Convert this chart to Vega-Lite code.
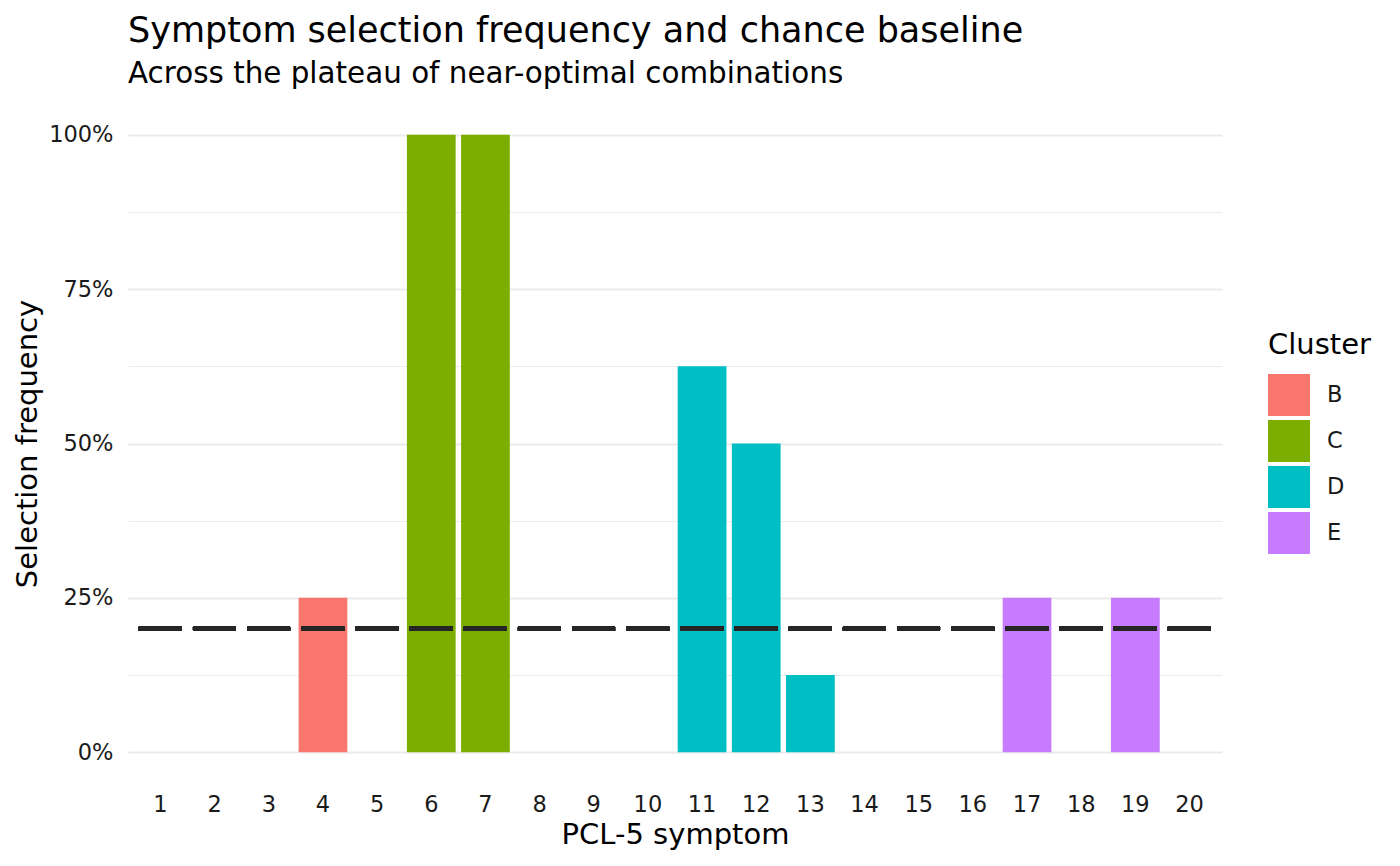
{
  "$schema": "https://vega.github.io/schema/vega-lite/v6.json",
  "autosize": {"type": "none"},
  "padding": {"left": 128, "top": 104, "right": 178, "bottom": 83},
  "width": 1094,
  "height": 679,
  "background": "white",
  "title": {
    "text": "Symptom selection frequency and chance baseline",
    "subtitle": "Across the plateau of near-optimal combinations",
    "anchor": "start",
    "frame": "group",
    "fontSize": 35,
    "subtitleFontSize": 29.4,
    "fontWeight": "normal",
    "color": "black",
    "subtitleColor": "black",
    "subtitlePadding": 11,
    "offset": 16
  },
  "data": {
    "values": [
      {"symptom": 1, "cluster": "B", "freq": 0},
      {"symptom": 2, "cluster": "B", "freq": 0},
      {"symptom": 3, "cluster": "B", "freq": 0},
      {"symptom": 4, "cluster": "B", "freq": 0.25},
      {"symptom": 5, "cluster": "B", "freq": 0},
      {"symptom": 6, "cluster": "C", "freq": 1},
      {"symptom": 7, "cluster": "C", "freq": 1},
      {"symptom": 8, "cluster": "D", "freq": 0},
      {"symptom": 9, "cluster": "D", "freq": 0},
      {"symptom": 10, "cluster": "D", "freq": 0},
      {"symptom": 11, "cluster": "D", "freq": 0.625},
      {"symptom": 12, "cluster": "D", "freq": 0.5},
      {"symptom": 13, "cluster": "D", "freq": 0.125},
      {"symptom": 14, "cluster": "D", "freq": 0},
      {"symptom": 15, "cluster": "E", "freq": 0},
      {"symptom": 16, "cluster": "E", "freq": 0},
      {"symptom": 17, "cluster": "E", "freq": 0.25},
      {"symptom": 18, "cluster": "E", "freq": 0},
      {"symptom": 19, "cluster": "E", "freq": 0.25},
      {"symptom": 20, "cluster": "E", "freq": 0}
    ]
  },
  "layer": [
    {
      "mark": {"type": "bar"},
      "encoding": {
        "x": {
          "field": "symptom",
          "type": "ordinal",
          "title": "PCL-5 symptom",
          "scale": {"paddingInner": 0.1, "paddingOuter": 0.15},
          "axis": {"labelAngle": 0, "labelPadding": 10, "titlePadding": 5}
        },
        "y": {
          "field": "freq",
          "type": "quantitative",
          "stack": null,
          "title": "Selection frequency",
          "scale": {"domain": [-0.05, 1.05], "nice": false, "zero": false},
          "axis": {
            "values": [0, 0.125, 0.25, 0.375, 0.5, 0.625, 0.75, 0.875, 1],
            "format": ".0%",
            "labelExpr": "(datum.value * 8) % 2 == 0 ? datum.label : ''",
            "grid": true,
            "gridColor": "#EBEBEB",
            "gridWidth": {"condition": {"test": "(datum.value * 8) % 2 == 1", "value": 1.2}, "value": 2.2},
            "labelPadding": 15,
            "titlePadding": 6
          }
        },
        "color": {
          "field": "cluster",
          "type": "nominal",
          "title": "Cluster",
          "scale": {"domain": ["B", "C", "D", "E"], "range": ["#F8766D", "#7CAE00", "#00BFC4", "#C77CFF"]},
          "legend": {"orient": "none", "legendX": 1140, "legendY": 227}
        }
      }
    },
    {
      "mark": {"type": "rule", "strokeDash": [43, 11.16], "strokeDashOffset": 43, "strokeWidth": 4, "color": "#262626"},
      "encoding": {"y": {"datum": 0.2}}
    }
  ],
  "config": {
    "font": "DejaVu Sans",
    "view": {"stroke": null},
    "axis": {
      "domain": false,
      "ticks": false,
      "labelFontSize": 22.5,
      "labelColor": "#1a1a1a",
      "titleFontSize": 29,
      "titleFontWeight": "normal",
      "titleColor": "black"
    },
    "axisX": {"grid": false},
    "legend": {
      "titleFontSize": 29,
      "titleFontWeight": "normal",
      "titleColor": "black",
      "labelFontSize": 22.5,
      "labelColor": "#1a1a1a",
      "symbolType": "square",
      "symbolSize": 1764,
      "symbolStrokeWidth": 0,
      "symbolOpacity": 1,
      "rowPadding": 4,
      "labelOffset": 17,
      "titlePadding": 14
    }
  }
}
